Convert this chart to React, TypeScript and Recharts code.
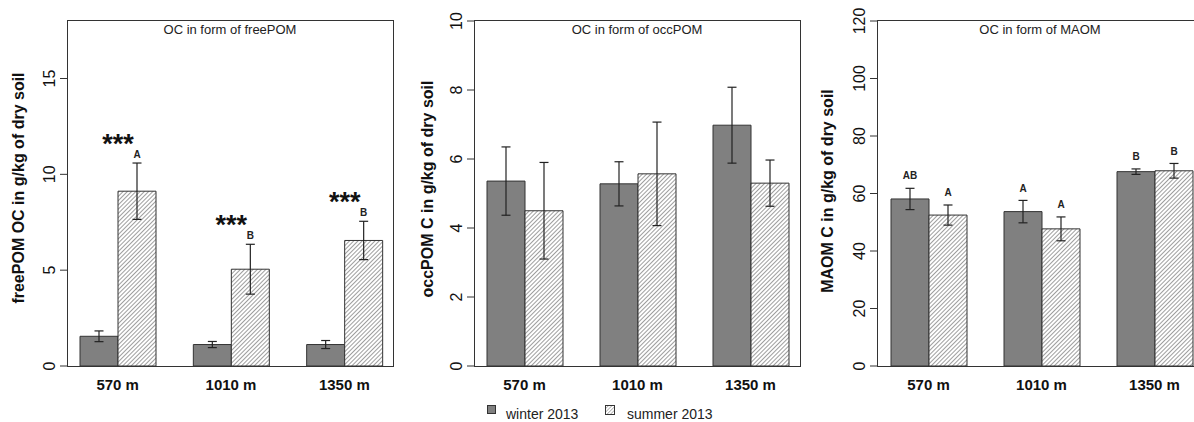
import React from 'react';
import { BarChart, Bar, XAxis, YAxis, ErrorBar, LabelList } from 'recharts';

const sites = ['570 m', '1010 m', '1350 m'];

const freePomWinter = [1.55, 1.12, 1.12];
const freePomWinterErr = [0.28, 0.16, 0.21];
const freePomSummer = [9.12, 5.05, 6.55];
const freePomSummerErr = [1.47, 1.3, 1.0];
const freePomSummerLetters = ['A', 'B', 'B'];
const freePomStars = ['***', '***', '***'];

const occPomWinter = [5.36, 5.28, 6.98];
const occPomWinterErr = [0.99, 0.64, 1.1];
const occPomSummer = [4.5, 5.57, 5.3];
const occPomSummerErr = [1.4, 1.5, 0.67];

const maomWinter = [58.1, 53.7, 67.6];
const maomWinterErr = [3.7, 3.9, 0.95];
const maomSummer = [52.5, 47.7, 67.9];
const maomSummerErr = [3.5, 4.15, 2.55];
const maomWinterLetters = ['AB', 'A', 'B'];
const maomSummerLetters = ['A', 'A', 'B'];

const freePomTicks = [0, 5, 10, 15];
const occPomTicks = [0, 2, 4, 6, 8, 10];
const maomTicks = [0, 20, 40, 60, 80, 100, 120];

const seriesNames = ['winter 2013', 'summer 2013'];

type Row = {
  site: string;
  winter: number;
  winterErr: number;
  summer: number;
  summerErr: number;
  wLetter: string;
  sLetter: string;
  star: string;
};

function buildRows(
  w: number[], we: number[], s: number[], se: number[],
  wl?: string[], sl?: string[], stars?: string[]
): Row[] {
  return sites.map((site, i) => ({
    site,
    winter: w[i],
    winterErr: we[i],
    summer: s[i],
    summerErr: se[i],
    wLetter: wl ? wl[i] : '',
    sLetter: sl ? sl[i] : '',
    star: stars ? stars[i] : '',
  }));
}

const FONT = '"Liberation Sans", Arial, Helvetica, sans-serif';
const WINTER_FILL = '#808080';
const EDGE = '#333333';

function getBox(props: any) {
  const vb = props.viewBox || {};
  const x = props.x ?? vb.x;
  const y = props.y ?? vb.y;
  const width = props.width ?? vb.width;
  const height = props.height ?? vb.height;
  return { x: Number(x), y: Number(y), width: Number(width), height: Number(height) };
}

type PanelProps = {
  id: string;
  left: number;
  width: number;
  yAxisWidth: number;
  marginRight: number;
  domain: [number, number];
  ticks: number[];
  padding: { left: number; right: number };
  title: string;
  yLabel: string;
  yLabelX: number;
  yLabelY: number;
  letterGap: number;
  data: Row[];
};

function YTick(props: any) {
  const { x, y, payload } = props;
  return (
    <text
      transform={`translate(${x - 3.3},${y}) rotate(-90)`}
      textAnchor="middle"
      fontSize={16}
      fontFamily={FONT}
      fill="#111"
    >
      {payload.value}
    </text>
  );
}

function XTick(props: any) {
  const { x, y, payload } = props;
  return (
    <text x={x} y={y + 24} textAnchor="middle" fontSize={15} fontWeight="bold" fontFamily={FONT} fill="#111">
      {payload.value}
    </text>
  );
}

function Panel(p: PanelProps) {
  const H = 422;
  const top = 21;
  const bottom = 56;
  const plotLeft = p.left + p.yAxisWidth;
  const plotWidth = p.width - p.yAxisWidth - p.marginRight;
  const patternId = `hatch-${p.id}`;

  const letterContent = (letterKey: 'wLetter' | 'sLetter', valKey: 'winter' | 'summer', errKey: 'winterErr' | 'summerErr') =>
    (props: any) => {
      const idx = props.index;
      const row = p.data[idx];
      if (!row) return null;
      const letter = row[letterKey];
      if (!letter) return null;
      const { x, y, width, height } = getBox(props);
      const ppu = height / row[valKey];
      const errTop = y - row[errKey] * ppu;
      const cy = errTop - p.letterGap;
      return (
        <text x={x + width / 2} y={cy + 3.6} textAnchor="middle" fontSize={10} fontWeight="bold" fontFamily={FONT} fill="#222">
          {letter}
        </text>
      );
    };

  const starContent = (props: any) => {
    const idx = props.index;
    const row = p.data[idx];
    if (!row || !row.star) return null;
    const { x, y, width, height } = getBox(props);
    const base = y + height;
    const ppu = height / row.winter;
    const errTop = base - (row.summer + row.summerErr) * ppu;
    return (
      <text x={x + width} y={errTop - 10.3} textAnchor="middle" fontSize={27} fontWeight="bold" fontFamily={FONT} fill="#111">
        {row.star}
      </text>
    );
  };

  return (
    <>
      <div style={{ position: 'absolute', left: p.left, top: 0, width: p.width, height: H }}>
        <BarChart
          width={p.width}
          height={H}
          data={p.data}
          margin={{ top, right: p.marginRight, bottom: 0, left: 0 }}
          barGap={0}
          barSize={38}
        >
          <defs>
            <pattern id={patternId} patternUnits="userSpaceOnUse" width={3.0} height={3.0} patternTransform="rotate(45)">
              <rect x={0} y={0} width={3.0} height={3.0} fill="#ffffff" />
              <line x1={0} y1={0} x2={0} y2={3.0} stroke="#333" strokeWidth={0.95} />
            </pattern>
          </defs>
          <XAxis
            dataKey="site"
            height={bottom}
            axisLine={false}
            tickLine={false}
            tickSize={0}
            tickMargin={0}
            padding={p.padding}
            tick={<XTick />}
            interval={0}
          />
          <YAxis
            width={p.yAxisWidth}
            domain={p.domain}
            ticks={p.ticks}
            axisLine={false}
            tickLine={{ stroke: EDGE, strokeWidth: 1 }}
            tickSize={7}
            tickMargin={2}
            tick={<YTick />}
            interval={0}
          />
          <Bar dataKey="winter" fill={WINTER_FILL} stroke={EDGE} strokeWidth={1} isAnimationActive={false}>
            <ErrorBar dataKey="winterErr" width={4.5} stroke="#222" strokeWidth={1.2} direction="y" />
            <LabelList dataKey="wLetter" content={letterContent('wLetter', 'winter', 'winterErr')} />
            <LabelList dataKey="star" content={starContent} />
          </Bar>
          <Bar dataKey="summer" fill={`url(#${patternId})`} stroke={EDGE} strokeWidth={1} isAnimationActive={false}>
            <ErrorBar dataKey="summerErr" width={4.5} stroke="#222" strokeWidth={1.2} direction="y" />
            <LabelList dataKey="sLetter" content={letterContent('sLetter', 'summer', 'summerErr')} />
          </Bar>
        </BarChart>
      </div>
      <div
        style={{
          position: 'absolute',
          left: plotLeft,
          top: top - 1,
          width: plotWidth + 1,
          height: H - top - bottom + 1.5,
          border: `1.3px solid ${EDGE}`,
          boxSizing: 'border-box',
          pointerEvents: 'none',
        }}
      />
      <div
        style={{
          position: 'absolute',
          left: plotLeft,
          width: plotWidth,
          top: 22,
          textAlign: 'center',
          fontSize: 13,
          fontFamily: FONT,
          color: '#222',
          lineHeight: '15px',
        }}
      >
        {p.title}
      </div>
      <div
        style={{
          position: 'absolute',
          left: p.yLabelX - 150,
          top: p.yLabelY - 10,
          width: 300,
          height: 20,
          lineHeight: '20px',
          textAlign: 'center',
          fontSize: 16,
          fontWeight: 'bold',
          fontFamily: FONT,
          color: '#111',
          transform: 'rotate(-90deg)',
          whiteSpace: 'nowrap',
        }}
      >
        {p.yLabel}
      </div>
    </>
  );
}

const freePomRows = buildRows(freePomWinter, freePomWinterErr, freePomSummer, freePomSummerErr, undefined, freePomSummerLetters, freePomStars);
const occPomRows = buildRows(occPomWinter, occPomWinterErr, occPomSummer, occPomSummerErr);
const maomRows = buildRows(maomWinter, maomWinterErr, maomSummer, maomSummerErr, maomWinterLetters, maomSummerLetters);

export default function App() {
  return (
    <div
      style={{
        position: 'fixed',
        left: 0,
        top: 0,
        width: 1194,
        height: 422,
        overflow: 'hidden',
        background: '#ffffff',
        fontFamily: FONT,
      }}
    >
      <Panel
        id="free"
        left={0}
        width={400}
        yAxisWidth={67}
        marginRight={7}
        domain={[0, 18]}
        ticks={freePomTicks}
        padding={{ left: -6, right: -8 }}
        title="OC in form of freePOM"
        yLabel="freePOM OC in g/kg of dry soil"
        yLabelX={19}
        yLabelY={188}
        letterGap={8.5}
        data={freePomRows}
      />
      <Panel
        id="occ"
        left={400}
        width={400}
        yAxisWidth={74}
        marginRight={0}
        domain={[0, 10]}
        ticks={occPomTicks}
        padding={{ left: -6, right: -7 }}
        title="OC in form of occPOM"
        yLabel="occPOM C in g/kg of dry soil"
        yLabelX={428}
        yLabelY={189}
        letterGap={12}
        data={occPomRows}
      />
      <Panel
        id="maom"
        left={800}
        width={410}
        yAxisWidth={77}
        marginRight={7}
        domain={[0, 120]}
        ticks={maomTicks}
        padding={{ left: -5, right: -8 }}
        title="OC in form of MAOM"
        yLabel="MAOM C in g/kg of dry soil"
        yLabelX={828}
        yLabelY={191}
        letterGap={12.5}
        data={maomRows}
      />
      <div style={{ position: 'absolute', left: 487, top: 405, width: 9, height: 9, background: WINTER_FILL, border: `1px solid ${EDGE}`, boxSizing: 'border-box' }} />
      <div style={{ position: 'absolute', left: 506, top: 405, fontSize: 14, lineHeight: '18px', color: '#222', whiteSpace: 'nowrap' }}>
        {seriesNames[0]}
      </div>
      <svg style={{ position: 'absolute', left: 605, top: 405 }} width={10} height={10}>
        <defs>
          <pattern id="hatch-legend" patternUnits="userSpaceOnUse" width={2.5} height={2.5} patternTransform="rotate(45)">
            <rect x={0} y={0} width={2.5} height={2.5} fill="#ffffff" />
            <line x1={0} y1={0} x2={0} y2={2.5} stroke="#555" strokeWidth={0.8} />
          </pattern>
        </defs>
        <rect x={0.5} y={0.5} width={9} height={9} fill="url(#hatch-legend)" stroke={EDGE} strokeWidth={1} />
      </svg>
      <div style={{ position: 'absolute', left: 627, top: 405, fontSize: 14, lineHeight: '18px', color: '#222', whiteSpace: 'nowrap' }}>
        {seriesNames[1]}
      </div>
    </div>
  );
}
